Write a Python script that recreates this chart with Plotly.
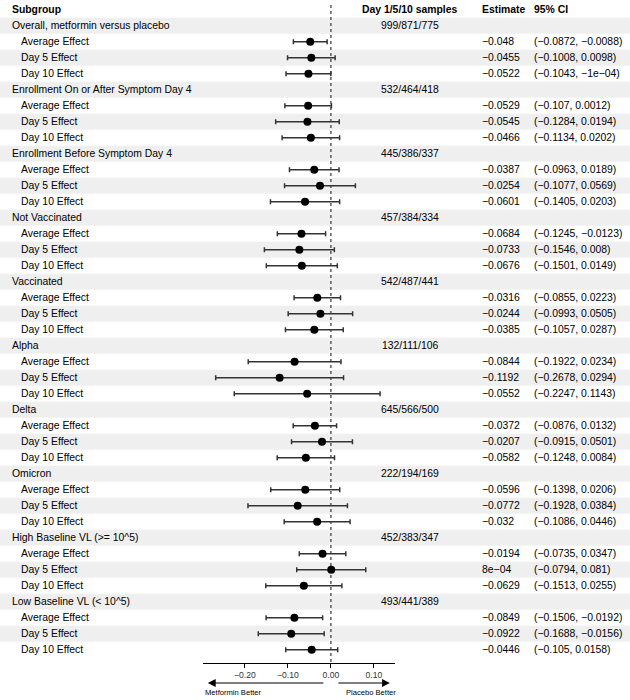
import plotly.graph_objects as go

# ---------------- data ----------------
subgroups = [
    "Overall, metformin versus placebo",
    "Enrollment On or After Symptom Day 4",
    "Enrollment Before Symptom Day 4",
    "Not Vaccinated",
    "Vaccinated",
    "Alpha",
    "Delta",
    "Omicron",
    "High Baseline VL (>= 10^5)",
    "Low Baseline VL (< 10^5)",
]
samples = [
    "999/871/775", "532/464/418", "445/386/337", "457/384/334", "542/487/441",
    "132/111/106", "645/566/500", "222/194/169", "452/383/347", "493/441/389",
]
effects = ["Average Effect", "Day 5 Effect", "Day 10 Effect"]

estimate = [
    -0.048, -0.0455, -0.0522,
    -0.0529, -0.0545, -0.0466,
    -0.0387, -0.0254, -0.0601,
    -0.0684, -0.0733, -0.0676,
    -0.0316, -0.0244, -0.0385,
    -0.0844, -0.1192, -0.0552,
    -0.0372, -0.0207, -0.0582,
    -0.0596, -0.0772, -0.032,
    -0.0194, 8e-04, -0.0629,
    -0.0849, -0.0922, -0.0446,
]
ci_low = [
    -0.0872, -0.1008, -0.1043,
    -0.107, -0.1284, -0.1134,
    -0.0963, -0.1077, -0.1405,
    -0.1245, -0.1546, -0.1501,
    -0.0855, -0.0993, -0.1057,
    -0.1922, -0.2678, -0.2247,
    -0.0876, -0.0915, -0.1248,
    -0.1398, -0.1928, -0.1086,
    -0.0735, -0.0794, -0.1513,
    -0.1506, -0.1688, -0.105,
]
ci_high = [
    -0.0088, 0.0098, -1e-04,
    0.0012, 0.0194, 0.0202,
    0.0189, 0.0569, 0.0203,
    -0.0123, 0.008, 0.0149,
    0.0223, 0.0505, 0.0287,
    0.0234, 0.0294, 0.1143,
    0.0132, 0.0501, 0.0084,
    0.0206, 0.0384, 0.0446,
    0.0347, 0.081, 0.0255,
    -0.0192, -0.0156, 0.0158,
]
x_ticks = [-0.2, -0.1, 0.0, 0.1]
x_tick_labels = ["\u22120.20", "\u22120.10", "0.00", "0.10"]


def fmt(v):
    s = f"{v:.0e}" if (v != 0 and abs(v) < 1e-3) else repr(v)
    return s.replace("-", "\u2212")


# ---------------- layout constants ----------------
W, H = 630, 700
FONT = "Liberation Sans, Arial, sans-serif"
FS = 10.4
PLOT_BOTTOM = 663
ROW0 = 9.7
ROWH = 16.0
n_rows = 1 + 4 * len(subgroups)
y_top = -ROW0 / ROWH
y_bot = (PLOT_BOTTOM - ROW0) / ROWH

def px2paper(px):
    return px / W

# row positions
sub_rows = [1 + 4 * g for g in range(len(subgroups))]
eff_rows = [1 + 4 * g + k + 1 for g in range(len(subgroups)) for k in range(3)]
shaded = [r for r in range(1, n_rows) if r % 2 == 1]

fig = go.Figure()

# alternating background bands
fig.add_trace(go.Bar(
    x=[1] * len(shaded), y=shaded, base=0, orientation="h", width=1,
    marker=dict(color="#efefef", line=dict(width=0)),
    xaxis="x", yaxis="y", hoverinfo="skip", showlegend=False,
))

# forest points with CI
fig.add_trace(go.Scatter(
    x=estimate, y=eff_rows, mode="markers",
    marker=dict(size=8, color="black"),
    error_x=dict(
        type="data", symmetric=False,
        array=[h - e for h, e in zip(ci_high, estimate)],
        arrayminus=[e - l for e, l in zip(estimate, ci_low)],
        color="#333333", thickness=1.5, width=2.5,
    ),
    xaxis="x2", yaxis="y", hoverinfo="skip", showlegend=False,
))

ann = []
def txt(text, xpx, row, anchor="left", bold=False):
    ann.append(dict(
        text=f"<b>{text}</b>" if bold else text,
        x=px2paper(xpx), xref="paper", y=row, yref="y",
        xanchor=anchor, yanchor="middle", showarrow=False,
        font=dict(family=FONT, size=FS, color="black"),
    ))

# headers
txt("Subgroup", 10, 0, bold=True)
txt("Day 1/5/10 samples", 410, 0, anchor="center", bold=True)
txt("Estimate", 480, 0, bold=True)
txt("95% CI", 532, 0, bold=True)

for g, name in enumerate(subgroups):
    txt(name, 10, sub_rows[g])
    txt(samples[g], 410, sub_rows[g], anchor="center")
    for k in range(3):
        i = 3 * g + k
        r = eff_rows[i]
        txt(effects[k], 18.5, r)
        txt(fmt(estimate[i]), 480, r)
        txt(f"({fmt(ci_low[i])}, {fmt(ci_high[i])})", 532, r)

# direction arrows and labels
arrow_y = (PLOT_BOTTOM - 683) / PLOT_BOTTOM
label_y = (PLOT_BOTTOM - 692) / PLOT_BOTTOM
ann.append(dict(x=-0.286, xref="x2", y=arrow_y, yref="paper", ax=117, ay=0,
                text="", showarrow=True, arrowhead=2, arrowsize=1.3,
                arrowwidth=1.2, arrowcolor="black"))
ann.append(dict(x=0.137, xref="x2", y=arrow_y, yref="paper", ax=-53, ay=0,
                text="", showarrow=True, arrowhead=2, arrowsize=1.3,
                arrowwidth=1.2, arrowcolor="black"))
ann.append(dict(text="Metformin Better", x=px2paper(203), xref="paper", y=label_y,
                yref="paper", xanchor="left", yanchor="middle", showarrow=False,
                font=dict(family=FONT, size=7.6, color="black")))
ann.append(dict(text="Placebo Better", x=px2paper(398), xref="paper", y=label_y,
                yref="paper", xanchor="right", yanchor="middle", showarrow=False,
                font=dict(family=FONT, size=7.6, color="black")))

fig.update_layout(
    width=W, height=H,
    margin=dict(l=0, r=0, t=0, b=H - PLOT_BOTTOM, pad=0),
    paper_bgcolor="white", plot_bgcolor="rgba(0,0,0,0)",
    showlegend=False, hovermode=False,
    xaxis=dict(domain=[0, 1], range=[0, 1], visible=False, fixedrange=True),
    xaxis2=dict(
        domain=[px2paper(202.7), px2paper(395)], range=[-0.298, 0.149],
        anchor="y", showline=True, linecolor="black", linewidth=1,
        ticks="outside", ticklen=4, tickwidth=1, tickcolor="black",
        tickvals=x_ticks, ticktext=x_tick_labels,
        tickfont=dict(family=FONT, size=8.6, color="#333333"),
        showgrid=False, zeroline=False, fixedrange=True,
    ),
    yaxis=dict(range=[y_bot, y_top], visible=False, fixedrange=True, domain=[0, 1]),
    annotations=ann,
    shapes=[dict(type="line", xref="x2", yref="y", x0=0, x1=0,
                 y0=-0.3, y1=y_bot, layer="below",
                 line=dict(color="#444444", width=1.3, dash="3px,3px"))],
)

fig.write_html(
    "out.html",
    config={"displayModeBar": False},
    post_script="document.body.style.margin='0';document.body.style.padding='0';",
)
